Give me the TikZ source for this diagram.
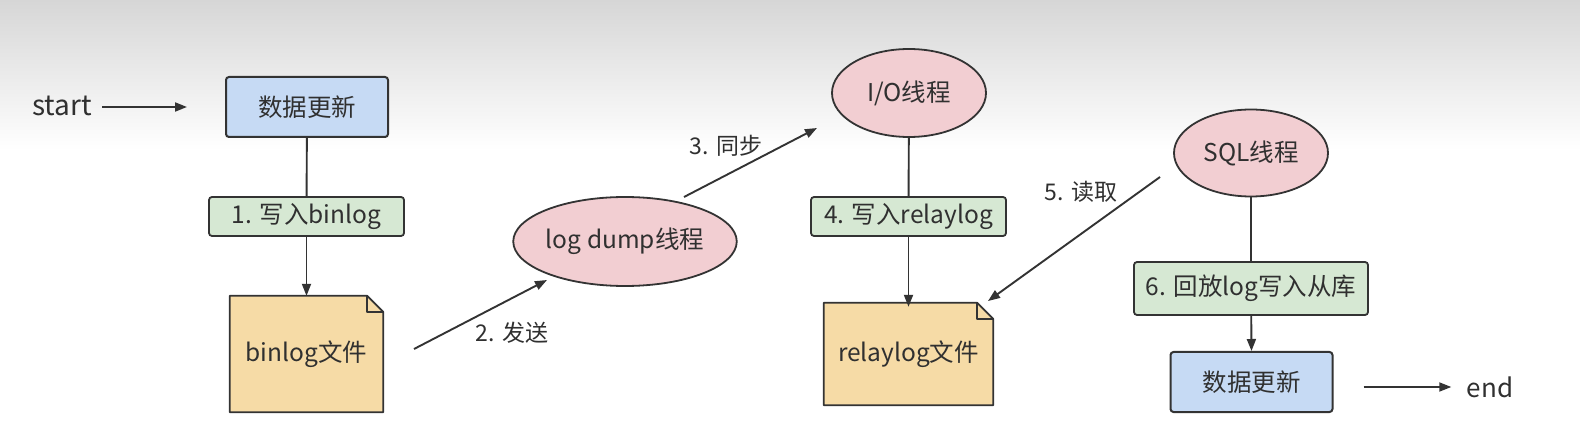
\documentclass[tikz,border=0pt]{standalone}
\usepackage{fontspec}
\setmainfont{Noto Sans CJK SC}
\usetikzlibrary{shapes.geometric,arrows.meta,calc}
\definecolor{bluefill}{HTML}{C6DAF4}
\definecolor{greenfill}{HTML}{D6E8D3}
\definecolor{pinkfill}{HTML}{F2CED2}
\definecolor{filefill}{HTML}{F6DBA6}
\definecolor{edge}{HTML}{333333}
\definecolor{txt}{HTML}{303030}
\tikzset{
  x=1pt, y=-1pt,
  every node/.style={text=txt, font=\fontsize{24.5}{28}\selectfont},
  datebox/.style={draw=edge, line width=2pt, fill=bluefill, rounded corners=3pt, minimum width=162pt, minimum height=60pt, inner sep=0pt},
  stepbox/.style={draw=edge, line width=1.8pt, fill=greenfill, rounded corners=3pt, minimum height=39pt, inner sep=0pt},
  thread/.style={ellipse, draw=edge, line width=1.8pt, fill=pinkfill, inner sep=0pt},
  filebox/.style={inner sep=0pt},
  fileline/.style={draw=edge, line width=1.8pt, fill=filefill, line join=round},
  conn/.style={draw=edge, line width=1.9pt},
  arr/.style={conn, -{Triangle[length=12pt,width=9pt]}},
  elabel/.style={font=\fontsize{23}{27}\selectfont},
}
\begin{document}
\begin{tikzpicture}
% background
\fill[white] (0,0) rectangle (1580,438);
\shade[top color=black!16, bottom color=white] (0,0) rectangle (1580,150);
\useasboundingbox (0,0) rectangle (1580,438);

% left column
\node (start) at (62,106) {\fontsize{28}{32}\selectfont start};
\node[datebox] (db1) at (307,107) {数据更新};
\node[stepbox, minimum width=195pt] (s1) at (306.5,216.5) {1. 写入binlog};
\node[filebox, minimum width=153pt, minimum height=116pt] (binf) at (306.5,354) {};
\draw[fileline] (binf.south west) -- (binf.north west) -- ($(binf.north east)+(-16,0)$) -- ($(binf.north east)+(0,16)$) -- (binf.south east) -- cycle;
\draw[fileline, fill=none] ($(binf.north east)+(-16,0)$) -- ($(binf.north east)+(-16,16)$) -- ($(binf.north east)+(0,16)$);
\node at (binf) {binlog文件};

% middle
\node[thread, minimum width=196pt, minimum height=89pt] (dump) at (625,241.5) {log dump线程};
\node[thread, minimum width=154pt, minimum height=88pt] (io) at (909,93) {I/O线程};
\node[stepbox, minimum width=195pt] (s4) at (908.5,216.5) {4. 写入relaylog};
\node[filebox, minimum width=169pt, minimum height=102pt] (relf) at (908.5,354) {};
\draw[fileline] (relf.south west) -- (relf.north west) -- ($(relf.north east)+(-16,0)$) -- ($(relf.north east)+(0,16)$) -- (relf.south east) -- cycle;
\draw[fileline, fill=none] ($(relf.north east)+(-16,0)$) -- ($(relf.north east)+(-16,16)$) -- ($(relf.north east)+(0,16)$);
\node at (relf) {relaylog文件};

% right
\node[thread, minimum width=154pt, minimum height=87pt] (sql) at (1251,153) {SQL线程};
\node[stepbox, minimum width=234pt, minimum height=53pt] (s6) at (1251,288.5) {6. 回放log写入从库};
\node[datebox] (db2) at (1251.5,382) {数据更新};
\node (endt) at (1490,387) {\fontsize{26}{30}\selectfont end};

% free ends of the slanted connectors
\coordinate (a2s) at (414,349);
\coordinate (a2e) at (547,280);
\coordinate (a3s) at (684,197);
\coordinate (a3e) at (817,128);
\coordinate (a5s) at (1160,177);
\coordinate (a5e) at (988,301);

% connectors
\draw[arr] ([xshift=7pt]start.east |- db1.west) -- ([xshift=-38pt]db1.west);
\draw[conn] (db1) -- (s1);
\draw[arr] (s1) -- (binf.north);
\draw[arr] (a2s) -- (a2e);
\draw[arr] (a3s) -- (a3e);
\draw[conn] (io) -- (s4);
\draw[arr] (s4) -- ([yshift=-4pt]relf.north);
\draw[arr] (a5s) -- (a5e);
\draw[conn] (sql) -- (s6);
\draw[arr] (s6) -- (db2.north);
\draw[arr] ([xshift=30pt]db2.east |- endt.west) -- ([xshift=-12pt]endt.west);

% edge labels
\node[elabel] at (512,333) {2. 发送};
\node[elabel] at (726,146) {3. 同步};
\node[elabel] at (1081,192) {5. 读取};
\end{tikzpicture}
\end{document}
